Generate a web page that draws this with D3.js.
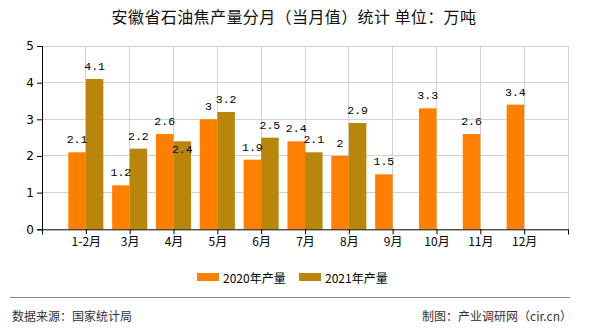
<!DOCTYPE html>
<html>
<head>
<meta charset="utf-8">
<script src="https://cdn.jsdelivr.net/npm/d3@7"></script>
<style>
  html, body { margin: 0; padding: 0; background: #fff; }
  svg { display: block; }
</style>
</head>
<body>
<svg id="chart" width="590" height="330"></svg>
<script>
const categories = ["1-2月", "3月", "4月", "5月", "6月", "7月", "8月", "9月", "10月", "11月", "12月"];
const values2020 = [2.1, 1.2, 2.6, 3, 1.9, 2.4, 2, 1.5, 3.3, 2.6, 3.4];
const values2021 = [4.1, 2.2, 2.4, 3.2, 2.5, 2.1, 2.9, null, null, null, null];
const seriesNames = ["2020年产量", "2021年产量"];
const yTicks = [0, 1, 2, 3, 4, 5];
const titleText = "安徽省石油焦产量分月（当月值）统计 单位：万吨";
const sourceText = "数据来源：国家统计局";
const creditText = "制图：产业调研网（cir.cn）";

const colors = ["#FF8000", "#B8860B"];
const cjk = "'Noto Sans CJK SC', 'Noto Sans', sans-serif";
const svg = d3.select("#chart");

const pL = 42, pR = 568, pT = 46, pB = 229.3;
const x = d3.scaleLinear().domain([0, categories.length + 1]).range([pL, pR]);
const y = d3.scaleLinear().domain([0, 5]).range([pB, pT]);
const step = x(1) - x(0);
const barW = step * 0.4;

// title
svg.append("text").attr("x", 294).attr("y", 23).attr("text-anchor", "middle")
  .attr("font-family", cjk).attr("font-size", 16).attr("letter-spacing", 0.4)
  .attr("fill", "#111").text(titleText);

// grid
const g = svg.append("g");
g.selectAll("line.hg").data(yTicks.filter(d => d > 0)).join("line")
  .attr("x1", pL).attr("x2", pR).attr("y1", d => y(d)).attr("y2", d => y(d))
  .attr("stroke", "#d2d2d2").attr("stroke-width", 1).attr("shape-rendering", "crispEdges");
const xTickVals = d3.range(0, categories.length + 2);
g.selectAll("line.vg").data(xTickVals.filter(d => d > 0)).join("line")
  .attr("x1", d => x(d)).attr("x2", d => x(d)).attr("y1", pT).attr("y2", pB)
  .attr("stroke", "#d2d2d2").attr("stroke-width", 1).attr("shape-rendering", "crispEdges");

// bars
const series = [values2020, values2021];
series.forEach((vals, s) => {
  svg.append("g").selectAll("rect").data(vals.map((v, i) => ({v, i})).filter(d => d.v != null)).join("rect")
    .attr("x", d => x(d.i + 1) - barW + s * barW)
    .attr("y", d => y(d.v))
    .attr("width", barW)
    .attr("height", d => y(0) - y(d.v))
    .attr("fill", colors[s]);
});

// axes
const yAxis = d3.axisLeft(y).tickValues(yTicks).tickSize(5).tickPadding(3).tickFormat(d3.format("d"));
const ya = svg.append("g").attr("transform", `translate(${pL},0)`).call(yAxis);
ya.select(".domain").attr("stroke", "#000");
ya.selectAll("text").attr("font-family", "'DejaVu Sans', sans-serif").attr("font-size", 12).attr("fill", "#000");

const xAxis = d3.axisBottom(x).tickValues(xTickVals).tickSize(5).tickPadding(3)
  .tickFormat(d => (d >= 1 && d <= categories.length) ? categories[d - 1] : "");
const xa = svg.append("g").attr("transform", `translate(0,${pB})`).call(xAxis);
xa.select(".domain").attr("stroke", "#000");
xa.selectAll("text").attr("font-family", cjk).attr("font-size", 12).attr("fill", "#000");

// value labels
const labelGroups = [];
series.forEach((vals, s) => {
  const lg = svg.append("g").selectAll("text").data(vals.map((v, i) => ({v, i})).filter(d => d.v != null)).join("text")
    .attr("x", d => x(d.i + 1) - barW / 2 + s * barW)
    .attr("y", d => y(d.v) - 9)
    .attr("text-anchor", "middle")
    .attr("font-family", "'Liberation Mono', 'DejaVu Sans Mono', monospace")
    .attr("font-size", 11.5)
    .attr("fill", "#000")
    .text(d => d3.format("")(d.v));
  labelGroups.push(lg);
});
// move colliding 2021 labels into the bar
const orangeBoxes = {};
labelGroups[0].each(function(d) { orangeBoxes[d.i] = this.getBBox(); });
labelGroups[1].each(function(d) {
  const a = this.getBBox(), b = orangeBoxes[d.i];
  if (!b) return;
  const hGap = a.x - (b.x + b.width);
  const vOverlap = Math.min(a.y + a.height, b.y + b.height) - Math.max(a.y, b.y);
  if (hGap < 2 && vOverlap > 4.5) {
    d3.select(this).attr("y", y(d.v) + 12);
  }
});

// legend
const legend = svg.append("g");
const legendX = [197, 299];
seriesNames.forEach((name, s) => {
  legend.append("rect").attr("x", legendX[s]).attr("y", 273).attr("width", 22).attr("height", 8).attr("fill", colors[s]);
  legend.append("text").attr("x", legendX[s] + 26).attr("y", 282.5)
    .attr("font-family", cjk).attr("font-size", 12).attr("fill", "#000").text(name);
});

// footer
svg.append("line").attr("x1", 10).attr("x2", 570).attr("y1", 297.5).attr("y2", 297.5)
  .attr("stroke", "#888").attr("stroke-width", 1);
svg.append("text").attr("x", 12).attr("y", 320.5).attr("font-family", cjk).attr("font-size", 12)
  .attr("fill", "#333").text(sourceText);
svg.append("text").attr("x", 572).attr("y", 320.5).attr("text-anchor", "end").attr("font-family", cjk).attr("font-size", 12)
  .attr("fill", "#333").text(creditText);
</script>
</body>
</html>
